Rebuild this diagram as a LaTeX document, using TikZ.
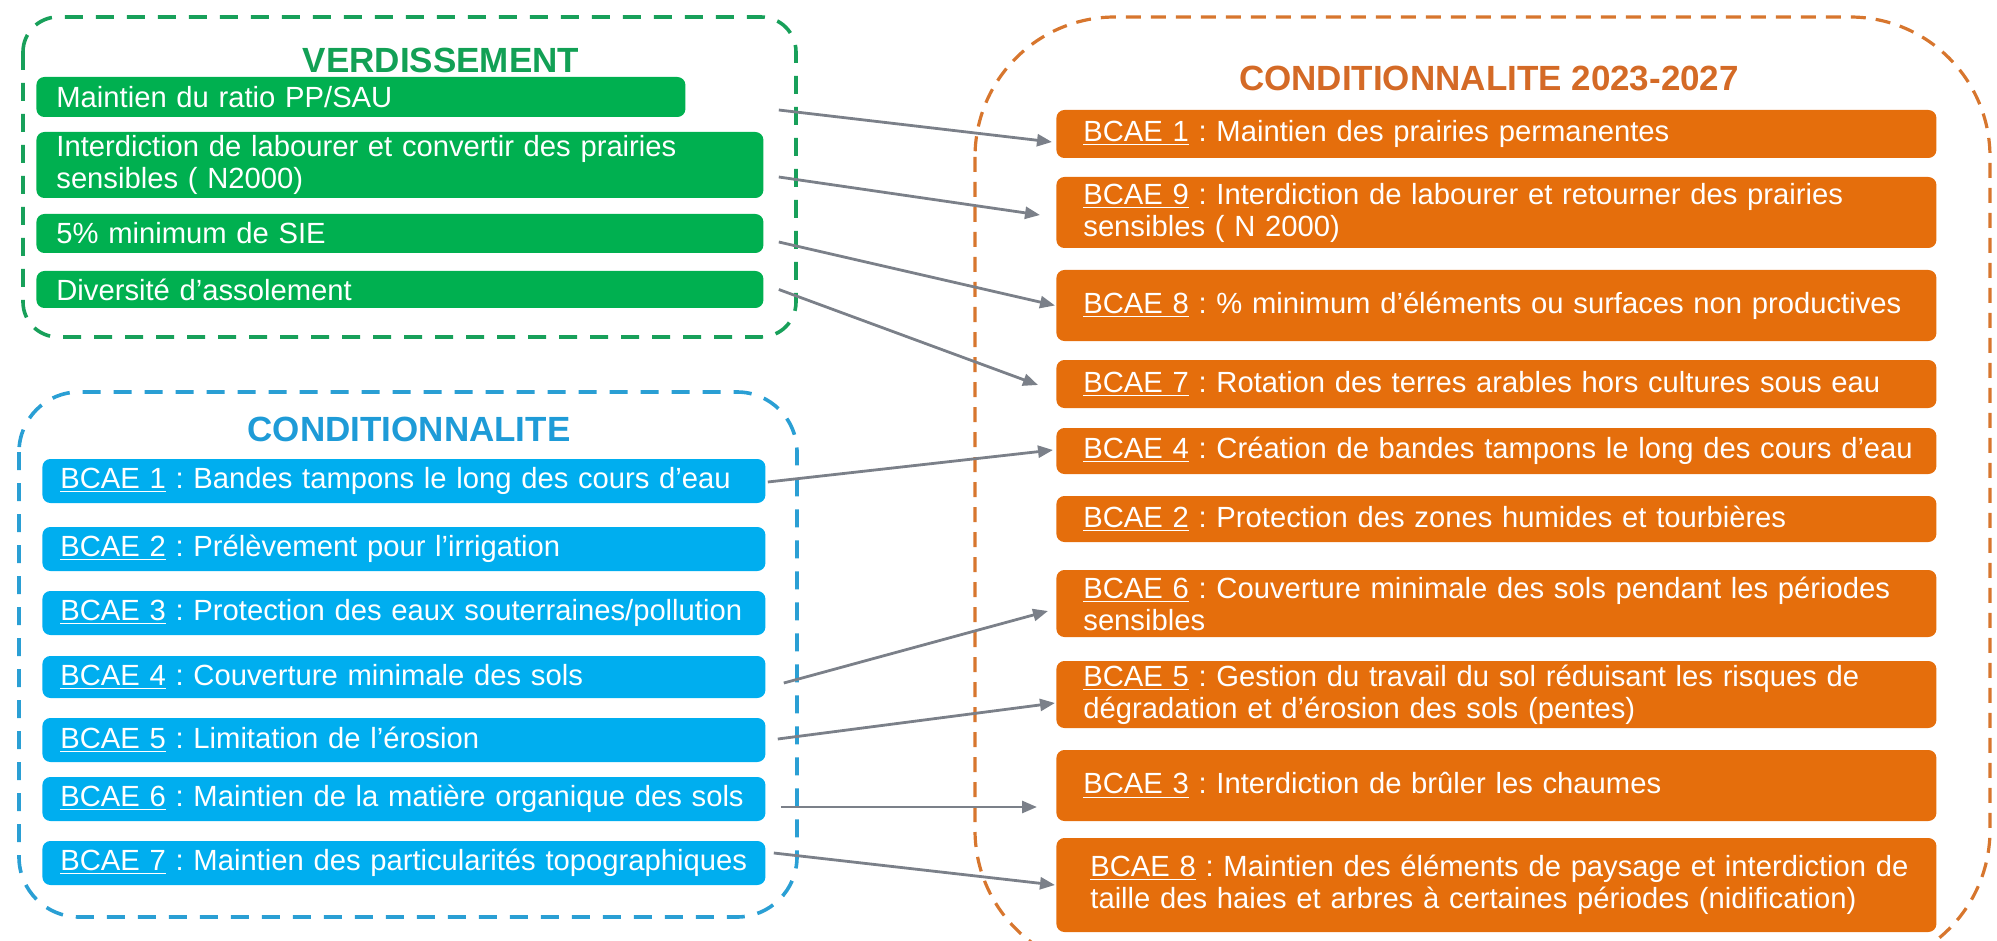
\documentclass[tikz,border=0pt]{standalone}
\usepackage{fontspec}
\setmainfont{Liberation Sans}
\frenchspacing
\usetikzlibrary{arrows.meta,calc}
\definecolor{gfill}{HTML}{00B050}
\definecolor{gtitle}{HTML}{12A055}
\definecolor{gdash}{HTML}{18A05A}
\definecolor{bfill}{HTML}{00AEEF}
\definecolor{btitle}{HTML}{1E9BD7}
\definecolor{bdash}{HTML}{2A9FD4}
\definecolor{ofill}{HTML}{E56E0C}
\definecolor{otitle}{HTML}{D46A26}
\definecolor{odash}{HTML}{D7762E}
\definecolor{arrgray}{HTML}{7B8089}
\begin{document}
\begin{tikzpicture}[x=0.5pt,y=-0.5pt,
  box/.style={rounded corners=4pt, anchor=west, inner ysep=0pt, align=left,
    text=white, font=\fontsize{14.6}{16}\selectfont},
  gbox/.style={box, fill=gfill, inner xsep=10pt, text width=343.5pt},
  bbox/.style={box, fill=bfill, inner xsep=9pt, text width=343.5pt},
  obox/.style={box, fill=ofill, inner xsep=13.5pt, text width=413pt},
  ttl/.style={font=\bfseries\fontsize{17.5}{19}\selectfont, inner sep=0pt},
  arr/.style={draw=arrgray, line width=1.4pt, -{Triangle[length=7.5pt,width=6pt]}},
  cont/.style={line width=1.8pt, dash pattern=on 9pt off 6.5pt},
]
\useasboundingbox (0,0) rectangle (1997,941);
\clip (0,0) rectangle (1997,941);

% containers
\draw[cont, draw=gdash, rounded corners=17.5pt] (23,17) rectangle (796,337);
\draw[cont, draw=bdash, rounded corners=30pt] (19,392) rectangle (797,917);
\draw[cont, draw=odash, line width=1.6pt, dash pattern=on 7.5pt off 5pt, rounded corners=70pt] (975,17) rectangle (1990,970);

% titles
\node[ttl, text=gtitle] (tv) at (441,60) {VERDISSEMENT};
\node[ttl, text=btitle] (tc) at (409,429) {CONDITIONNALITE};
\node[ttl, text=otitle] (to) at (1489,78) {CONDITIONNALITE 2023-2027};

% green boxes
\node[gbox, text width=304.5pt, minimum height=20pt] (g1) at (36,97) {\mbox{Maintien du ratio PP/SAU}};
\node[gbox, minimum height=33pt] (g2) at (36,165) {\mbox{Interdiction de labourer et convertir des prairies}\\\mbox{sensibles ( N2000)}};
\node[gbox, minimum height=19.5pt] (g3) at (36,233.5) {\mbox{5\% minimum de SIE}};
\node[gbox, minimum height=18.5pt] (g4) at (36,289.5) {\mbox{Diversité d'assolement}};

% blue boxes
\node[bbox, minimum height=22pt] (b1) at (42,481) {\mbox{\underline{BCAE 1} : Bandes tampons le long des cours d'eau}};
\node[bbox, minimum height=22pt] (b2) at (42,549) {\mbox{\underline{BCAE 2} : Prélèvement pour l'irrigation}};
\node[bbox, minimum height=22pt] (b3) at (42,613) {\mbox{\underline{BCAE 3} : Protection des eaux souterraines/pollution}};
\node[bbox, minimum height=21pt] (b4) at (42,677) {\mbox{\underline{BCAE 4} : Couverture minimale des sols}};
\node[bbox, minimum height=22pt] (b5) at (42,740) {\mbox{\underline{BCAE 5} : Limitation de l'érosion}};
\node[bbox, minimum height=22pt] (b6) at (42,799) {\mbox{\underline{BCAE 6} : Maintien de la matière organique des sols}};
\node[bbox, minimum height=22pt] (b7) at (42,863) {\mbox{\underline{BCAE 7} : Maintien des particularités topographiques}};

% orange boxes
\node[obox, minimum height=24pt] (o1) at (1056,134) {\mbox{\underline{BCAE 1} : Maintien des prairies permanentes}};
\node[obox, minimum height=35.5pt] (o2) at (1056,212.5) {\mbox{\underline{BCAE 9} : Interdiction de labourer et retourner des prairies}\\\mbox{sensibles ( N 2000)}};
\node[obox, minimum height=35.5pt] (o3) at (1056,305.5) {\mbox{\underline{BCAE 8} : \% minimum d'éléments ou surfaces non productives}};
\node[obox, minimum height=24pt] (o4) at (1056,384) {\mbox{\underline{BCAE 7} : Rotation des terres arables hors cultures sous eau}};
\node[obox, minimum height=23pt] (o5) at (1056,451) {\mbox{\underline{BCAE 4} : Création de bandes tampons le long des cours d'eau}};
\node[obox, minimum height=23pt] (o6) at (1056,519) {\mbox{\underline{BCAE 2} : Protection des zones humides et tourbières}};
\node[obox, minimum height=33.5pt] (o7) at (1056,603.5) {\mbox{\underline{BCAE 6} : Couverture minimale des sols pendant les périodes}\\\mbox{sensibles}};
\node[obox, minimum height=33.5pt] (o8) at (1056,694.5) {\mbox{\underline{BCAE 5} : Gestion du travail du sol réduisant les risques de}\\\mbox{dégradation et d'érosion des sols (pentes)}};
\node[obox, minimum height=35.5pt] (o9) at (1056,785.5) {\mbox{\underline{BCAE 3} : Interdiction de brûler les chaumes}};
\node[obox, minimum height=47pt, inner xsep=17pt, text width=406pt] (o10) at (1056,885) {\mbox{\underline{BCAE 8} : Maintien des éléments de paysage et interdiction de}\\\mbox{taille des haies et arbres à certaines périodes (nidification)}};

% arrows
\draw[arr] ($(g1.east)+(93,13)$) -- ($(o1.west)+(-4,8)$);
\draw[arr] ($(g2.east)+(15,12)$) -- ($(o2.west)+(-16,2.5)$);
\draw[arr] ($(g3.east)+(15,8.5)$) -- ($(o3.west)+(-1,0)$);
\draw[arr] ($(g4.east)+(15,0)$) -- ($(o4.west)+(-18,1)$);
\draw[arr] ($(b1.east)+(2,1)$) -- ($(o5.west)+(-3,-1)$);
\draw[arr] ($(b4.east)+(18,6)$) -- ($(o7.west)+(-8,7.5)$);
\draw[arr] ($(b5.east)+(12,-1)$) -- ($(o8.west)+(-1,8.5)$);
\draw[arr] ($(b6.east)+(15,8)$) -- ($(o9.west)+(-19,21.5)$);
\draw[arr] ($(b7.east)+(8,-10)$) -- ($(o10.west)+(-1,0)$);
\end{tikzpicture}
\end{document}
